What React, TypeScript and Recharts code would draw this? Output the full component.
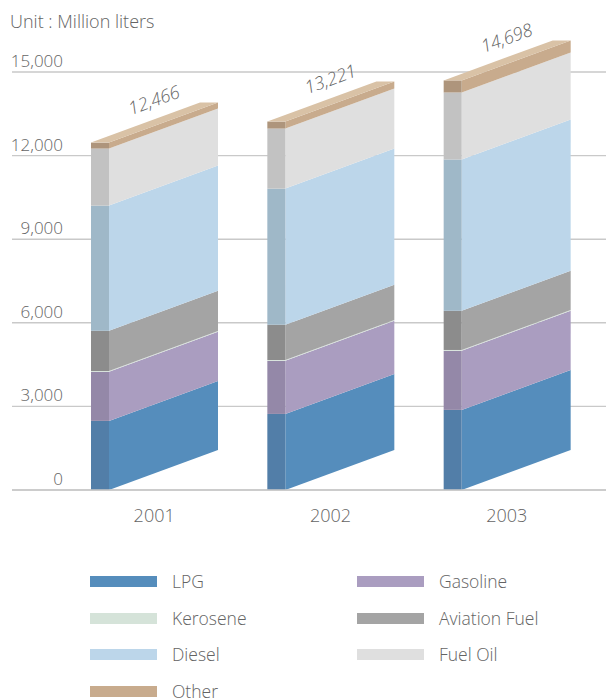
import React from "react";
import { BarChart, Bar, XAxis, YAxis, CartesianGrid, Legend, LabelList } from "recharts";

const years = ["2001", "2002", "2003"];
const lpg = [2480, 2730, 2875];
const gasoline = [1760, 1905, 2120];
const kerosene = [30, 30, 30];
const aviationFuel = [1443, 1265, 1405];
const diesel = [4492, 4885, 5430];
const fuelOil = [2048, 2155, 2405];
const other = [213, 251, 433];
const totals = [12466, 13221, 14698];
const yTicks = [0, 3000, 6000, 9000, 12000, 15000];

const seriesNames = ["LPG", "Gasoline", "Kerosene", "Aviation Fuel", "Diesel", "Fuel Oil", "Other"];
const seriesValues = [lpg, gasoline, kerosene, aviationFuel, diesel, fuelOil, other];
const sideColors = ["#558dbc", "#aa9dc0", "#d5e3d9", "#a4a4a4", "#bcd6ea", "#dfdfdf", "#c8ab8d"];
const frontColors = ["#527ea8", "#9488a8", "#d5e3d9", "#8c8c8c", "#9fb8c8", "#c2c2c2", "#ae957c"];
const topColor = "#d9c2a6";

const FONT = "'Open Sans', sans-serif";
const TEXT = "#646464";
const FRONT_W = 18;
const RISE = 40;

const rows = years.map((year, i) => {
  const row: Record<string, string | number> = { year, total: totals[i] };
  seriesNames.forEach((name, s) => {
    row[name] = seriesValues[s][i];
  });
  return row;
});

// One stacked block: a narrow front face and a long side face sheared upward.
function Block(props: any) {
  const { x, y, width, height, index } = props;
  const s: number = props.seriesIndex;
  const xf = x + FRONT_W;
  const xr = x + width;
  const isTop = s === seriesNames.length - 1;
  return (
    <g key={index}>
      <polygon
        points={`${xf},${y} ${xr},${y - RISE} ${xr},${y + height - RISE} ${xf},${y + height}`}
        fill={sideColors[s]}
      />
      <rect x={x} y={y} width={FRONT_W} height={height} fill={frontColors[s]} />
      {isTop && (
        <polygon
          points={`${x},${y} ${xf},${y} ${xr},${y - RISE} ${xr - FRONT_W},${y - RISE}`}
          fill={topColor}
        />
      )}
    </g>
  );
}

function TotalLabel(props: any) {
  const { x, y, width, value } = props;
  const cx = x + width / 2;
  const cy = y - RISE / 2 - 21;
  return (
    <text
      x={cx}
      y={cy}
      textAnchor="middle"
      dominantBaseline="middle"
      transform={`rotate(-20 ${cx} ${cy})`}
      fontFamily={FONT}
      fontStyle="italic"
      fontSize={18}
      fontWeight={300}
      fill={TEXT}
    >
      {Number(value).toLocaleString("en-US")}
    </text>
  );
}

function YTick(props: any) {
  const { y, payload } = props;
  return (
    <text x={63} y={y - 5} textAnchor="end" fontFamily={FONT} fontSize={17} fontWeight={300} fill={TEXT}>
      {Number(payload.value).toLocaleString("en-US")}
    </text>
  );
}

function LegendBlock(props: any) {
  const items: any[] = props.payload ?? [];
  const ordered = seriesNames.map((name) => items.find((it) => it.value === name)).filter(Boolean);
  return (
    <div style={{ position: "relative", width: 606, height: 122 }}>
      {ordered.map((item, i) => {
        const left = i % 2 === 0 ? 90 : 357;
        const top = [0, 37, 73, 110][Math.floor(i / 2)];
        return (
          <div key={item.value} style={{ position: "absolute", left, top }}>
            <div style={{ position: "absolute", left: 0, top: 0, width: 67, height: 11, background: item.color }} />
            <div
              style={{
                position: "absolute",
                left: 82,
                top: -2.5,
                lineHeight: "14px",
                whiteSpace: "nowrap",
                fontFamily: FONT,
                fontSize: 17.5,
                fontWeight: 300,
                color: TEXT,
              }}
            >
              {item.value}
            </div>
          </div>
        );
      })}
    </div>
  );
}

export default function App() {
  return (
    <div style={{ position: "absolute", left: 0, top: 0, width: 606, height: 698 }}>
      <div
        style={{
          position: "absolute",
          left: 10,
          top: 9,
          zIndex: 2,
          fontFamily: FONT,
          fontSize: 18,
          fontWeight: 300,
          lineHeight: "24px",
          color: TEXT,
        }}
      >
        Unit : Million liters
      </div>
      <BarChart
        width={606}
        height={698}
        data={rows}
        barSize={127}
        margin={{ top: 72, right: 0, bottom: 56, left: 0 }}
      >
        <CartesianGrid vertical={false} stroke="#c9c9c9" strokeWidth={1.4} />
        <XAxis
          dataKey="year"
          height={30}
          padding={{ left: 54, right: 11 }}
          axisLine={{ stroke: "#c9c9c9", strokeWidth: 1.4 }}
          tickLine={false}
          tickMargin={13}
          tick={{ fontFamily: FONT, fontSize: 18, fontWeight: 300, fill: TEXT }}
        />
        <YAxis
          width={12}
          domain={[0, 15000]}
          ticks={yTicks}
          interval={0}
          axisLine={false}
          tickLine={false}
          tick={<YTick />}
        />
        {seriesNames.map((name, s) => (
          <Bar
            key={name}
            dataKey={name}
            name={name}
            stackId="fuel"
            fill={sideColors[s]}
            isAnimationActive={false}
            shape={(p: any) => <Block {...p} seriesIndex={s} />}
          >
            {s === seriesNames.length - 1 && (
              <LabelList dataKey="total" content={(p: any) => <TotalLabel {...p} />} />
            )}
          </Bar>
        ))}
        <Legend
          layout="vertical"
          align="center"
          verticalAlign="bottom"
          content={(p: any) => <LegendBlock {...p} />}
          wrapperStyle={{ position: "absolute", left: 0, top: 576, width: 606, height: 122 }}
        />
      </BarChart>
    </div>
  );
}
